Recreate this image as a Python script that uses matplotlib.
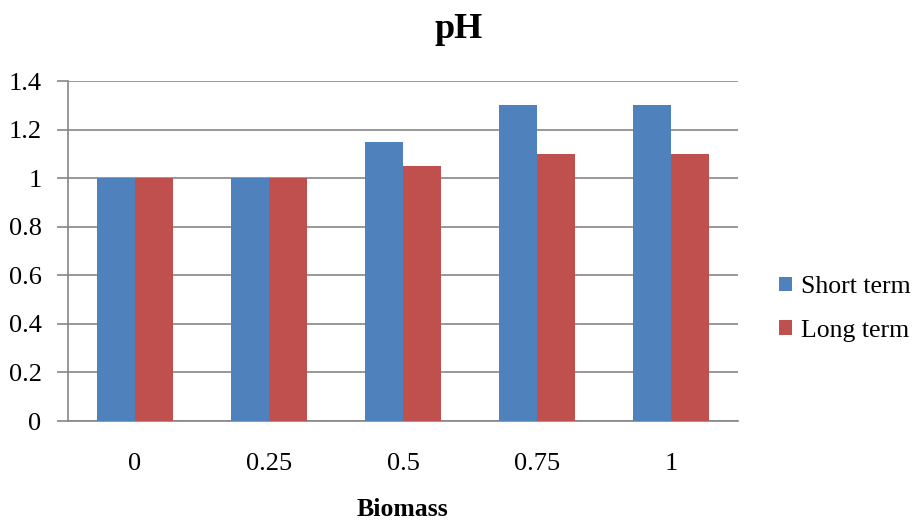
import numpy as np
import matplotlib.pyplot as plt

plt.rcParams['font.family'] = ['Liberation Serif', 'DejaVu Serif']

biomass = ['0', '0.25', '0.5', '0.75', '1']
short_term = [1.0, 1.0, 1.15, 1.3, 1.3]
long_term = [1.0, 1.0, 1.05, 1.1, 1.1]

fig = plt.figure(figsize=(9.14, 5.21), dpi=100)
ax = fig.add_axes([68 / 914, 1 - 421 / 521, 670 / 914, 340 / 521])

x = np.arange(len(biomass))
w = 1 / 3.5
ax.bar(x - w / 2, short_term, w, color='#4F81BD', label='Short term', zorder=3)
ax.bar(x + w / 2, long_term, w, color='#C0504D', label='Long term', zorder=3)

ax.set_xlim(-0.5, len(biomass) - 0.5)
ax.set_ylim(0, 1.4)
ax.set_yticks(np.arange(0, 1.41, 0.2))
ax.set_yticklabels(['0', '0.2', '0.4', '0.6', '0.8', '1', '1.2', '1.4'])
ax.set_xticks(x)
ax.set_xticklabels(biomass)

ax.yaxis.grid(True, color='#868686', linewidth=1.2, zorder=0)
for s in ['top', 'right']:
    ax.spines[s].set_visible(False)
for s in ['left', 'bottom']:
    ax.spines[s].set_color('#868686')
    ax.spines[s].set_linewidth(1.2)
ax.tick_params(axis='y', length=8, width=1.2, color='#868686', labelsize=19, pad=11)
ax.tick_params(axis='x', length=0, labelsize=19, pad=23)

fig.text(459 / 914, 1 - 30 / 521, 'pH', ha='center', va='center', fontsize=26, fontweight='bold')
fig.text(402 / 914, 1 - 510 / 521, 'Biomass', ha='center', va='center', fontsize=18.5, fontweight='bold')

fig.legend(loc='center left', bbox_to_anchor=(779 / 914, 1 - 309 / 521), frameon=False,
           fontsize=18.5, handlelength=0.5, handleheight=0.5, handletextpad=0.35,
           labelspacing=0.85, borderpad=0, borderaxespad=0)

fig.savefig('out.png', dpi=100)
